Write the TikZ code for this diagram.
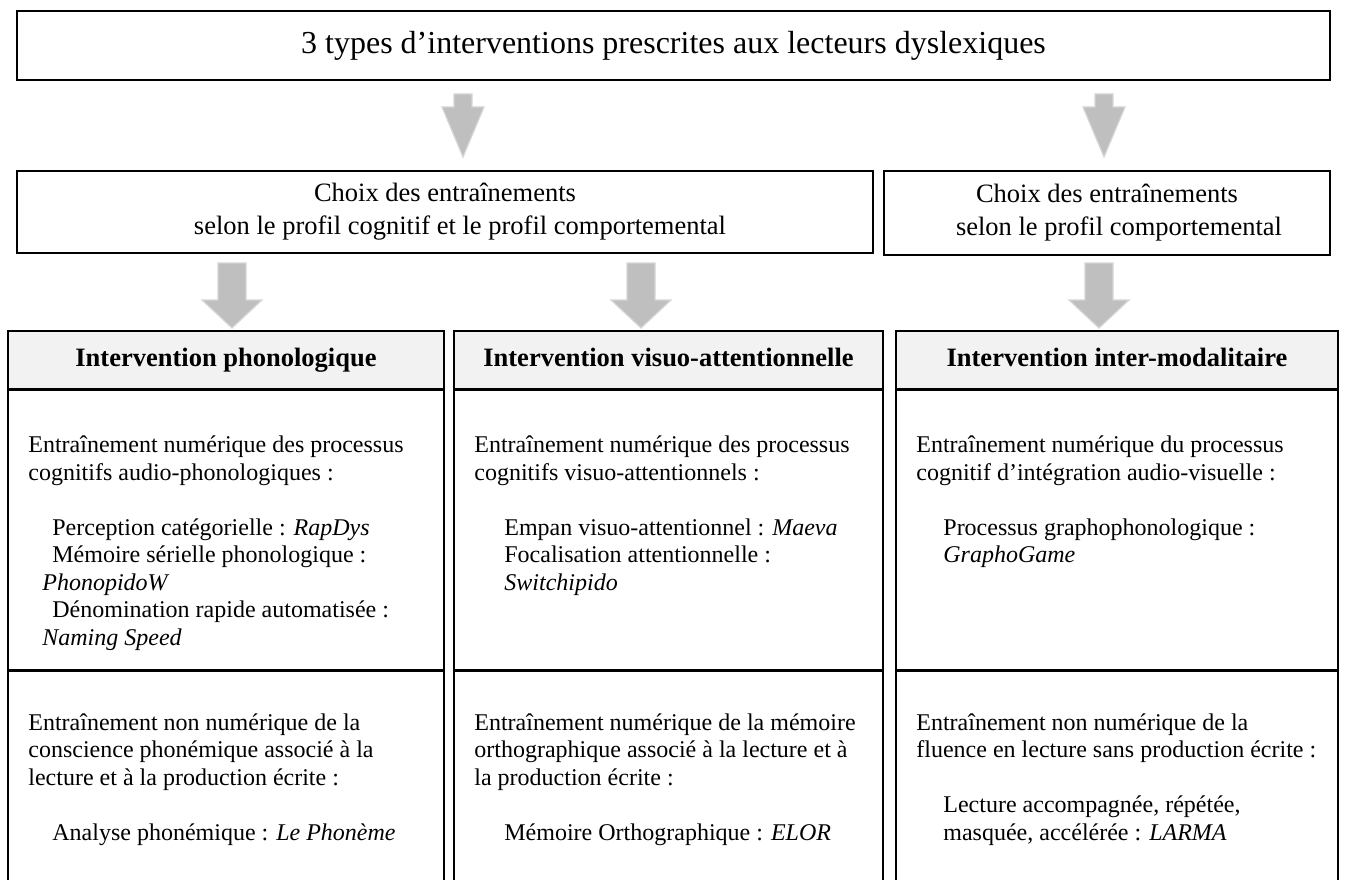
\documentclass[tikz,border=0pt]{standalone}
\usepackage{fontspec}
\setmainfont{Liberation Serif}
\usepackage{tikz}
\usetikzlibrary{positioning}

\definecolor{arrowfill}{RGB}{191,191,191}
\definecolor{arrowline}{RGB}{214,214,214}
\definecolor{headfill}{RGB}{242,242,242}

\newcommand{\textlines}[1]{\begin{tabular}[t]{@{}l@{}}#1\end{tabular}}

\tikzset{
    plainbox/.style={draw=black, line width=1.6pt, inner sep=0pt},
    titlebox/.style={plainbox, line width=2.4pt, minimum width=1313pt, minimum height=69pt, font=\fontsize{32}{38}\selectfont},
    choixbox/.style={plainbox, align=center, font=\fontsize{26.5}{33}\selectfont},
    headbox/.style={plainbox, fill=headfill, minimum height=58pt, text height=18pt, text depth=6pt, font=\fontsize{26.5}{31}\selectfont\bfseries},
    bodytext/.style={anchor=base west, inner sep=0pt, font=\fontsize{24}{27.5}\selectfont},
    grayarrow/.style={fill=arrowfill, draw=arrowline, line width=1.2pt},
}

\begin{document}
\begin{tikzpicture}[x=1pt, y=-1pt]
            \useasboundingbox (0,0) rectangle (1345,880);

            % top
            \node[titlebox] (title) at (673.5,45.5) {3 types d’interventions prescrites aux lecteurs dyslexiques};

            \coordinate (tipA) at (463,157);
            \coordinate (tipB) at (1104,157);
            \draw[grayarrow] (tipA) -- ++(-21,-50) -- ++(12,0) -- ++(0,-13) -- ++(18,0) -- ++(0,13) -- ++(12,0) -- cycle;
            \draw[grayarrow] (tipB) -- ++(-21,-50) -- ++(12,0) -- ++(0,-13) -- ++(18,0) -- ++(0,13) -- ++(12,0) -- cycle;

            % choix
            \node[choixbox, minimum width=856pt, minimum height=82pt] (choixA) at (445,212) {Choix des entraînements\\\hspace*{30pt}selon le profil cognitif et le profil comportemental};
            \node[choixbox, minimum width=446pt, minimum height=84pt] (choixB) at (1107,213) {Choix des entraînements\\\hspace*{24pt}selon le profil comportemental};

            \coordinate (tipC) at (232,328);
            \coordinate (tipD) at (641,328);
            \coordinate (tipE) at (1099,328);
            \draw[grayarrow] (tipC) -- ++(-30,-28) -- ++(16,0) -- ++(0,-37) -- ++(28,0) -- ++(0,37) -- ++(16,0) -- cycle;
            \draw[grayarrow] (tipD) -- ++(-30,-28) -- ++(16,0) -- ++(0,-37) -- ++(28,0) -- ++(0,37) -- ++(16,0) -- cycle;
            \draw[grayarrow] (tipE) -- ++(-30,-28) -- ++(16,0) -- ++(0,-37) -- ++(28,0) -- ++(0,37) -- ++(16,0) -- cycle;

            % interventions
            \node[headbox, minimum width=436pt] (hPhono) at (226,360) {Intervention phonologique};
            \node[headbox, minimum width=429pt] (hVisuo) at (668.5,360) {Intervention visuo-attentionnelle};
            \node[headbox, minimum width=442pt] (hInter) at (1117,360) {Intervention inter-modalitaire};

            \node[plainbox, minimum width=436pt, minimum height=279pt, below=0pt of hPhono] (tPhono) {};
            \node[plainbox, minimum width=429pt, minimum height=279pt, below=0pt of hVisuo] (tVisuo) {};
            \node[plainbox, minimum width=442pt, minimum height=279pt, below=0pt of hInter] (tInter) {};
            \node[plainbox, minimum width=436pt, minimum height=220pt, below=0pt of tPhono] (bPhono) {};
            \node[plainbox, minimum width=429pt, minimum height=220pt, below=0pt of tVisuo] (bVisuo) {};
            \node[plainbox, minimum width=442pt, minimum height=220pt, below=0pt of tInter] (bInter) {};

            \node[bodytext] (txtPhonoA) at ([shift={(21,63)}]tPhono.north west) {\textlines{Entraînement numérique des processus\\
                cognitifs audio-phonologiques :\\[27.5pt]
                \hspace*{24pt}Perception catégorielle : \textit{RapDys}\\
                \hspace*{24pt}Mémoire sérielle phonologique :\\
                \hspace*{14pt}\textit{PhonopidoW}\\
                \hspace*{24pt}Dénomination rapide automatisée :\\
                \hspace*{14pt}\textit{Naming Speed}}};
            \node[bodytext] (txtPhonoB) at ([shift={(21,60)}]bPhono.north west) {\textlines{Entraînement non numérique de la\\
                conscience phonémique associé à la\\
                lecture et à la production écrite :\\[27.5pt]
                \hspace*{24pt}Analyse phonémique : \textit{Le Phonème}}};

            \node[bodytext] (txtVisuoA) at ([shift={(21,63)}]tVisuo.north west) {\textlines{Entraînement numérique des processus\\
                cognitifs visuo-attentionnels :\\[27.5pt]
                \hspace*{30pt}Empan visuo-attentionnel : \textit{Maeva}\\
                \hspace*{30pt}Focalisation attentionnelle :\\
                \hspace*{30pt}\textit{Switchipido}}};
            \node[bodytext] (txtVisuoB) at ([shift={(21,60)}]bVisuo.north west) {\textlines{Entraînement numérique de la mémoire\\
                orthographique associé à la lecture et à\\
                la production écrite :\\[27.5pt]
                \hspace*{30pt}Mémoire Orthographique : \textit{ELOR}}};

            \node[bodytext] (txtInterA) at ([shift={(21,63)}]tInter.north west) {\textlines{Entraînement numérique du processus\\
                cognitif d’intégration audio-visuelle :\\[27.5pt]
                \hspace*{27pt}Processus graphophonologique :\\
                \hspace*{27pt}\textit{GraphoGame}}};
            \node[bodytext] (txtInterB) at ([shift={(21,60)}]bInter.north west) {\textlines{Entraînement non numérique de la\\
                fluence en lecture sans production écrite :\\[27.5pt]
                \hspace*{27pt}Lecture accompagnée, répétée,\\
                \hspace*{27pt}masquée, accélérée : \textit{LARMA}}};
        \end{tikzpicture}
\end{document}
